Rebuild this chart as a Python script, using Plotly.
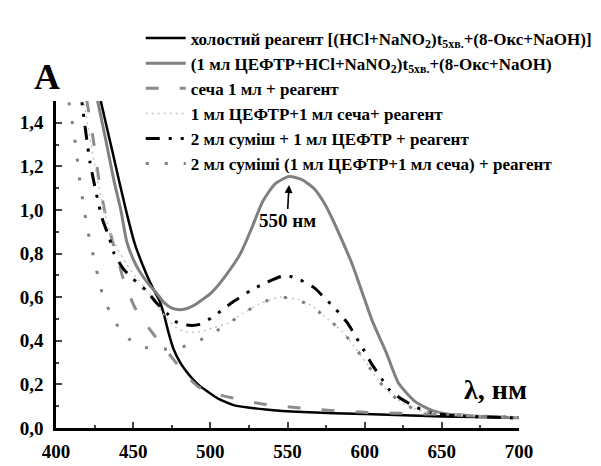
import plotly.graph_objects as go

# ---------------- data ----------------
wl_blank = [425, 429, 436.5, 441, 446, 451, 456, 460.5, 464, 467, 470, 473, 476, 480.5, 485, 492, 500, 505, 515, 536, 560, 600, 650, 700]
a_blank = [1.65, 1.50, 1.27, 1.13, 0.98, 0.846, 0.75, 0.675, 0.625, 0.585, 0.52, 0.435, 0.365, 0.30, 0.255, 0.20, 0.158, 0.135, 0.105, 0.085, 0.073, 0.064, 0.053, 0.047]

wl_ceftr = [423, 427, 432, 437.7, 442, 446, 450, 454, 460, 465, 470, 475, 480.5, 485, 490, 495, 500.6, 509, 519.5, 527, 534, 542, 551, 559, 567, 574, 580, 586, 592, 598, 605, 614, 622, 633, 645, 653, 670, 700]
a_ceftr = [1.65, 1.50, 1.33, 1.13, 1.00, 0.85, 0.775, 0.72, 0.66, 0.62, 0.575, 0.55, 0.543, 0.548, 0.565, 0.59, 0.62, 0.69, 0.80, 0.92, 1.04, 1.12, 1.154, 1.14, 1.10, 1.03, 0.945, 0.85, 0.75, 0.63, 0.49, 0.346, 0.205, 0.12, 0.077, 0.064, 0.055, 0.047]

wl_urine = [416, 420, 424, 428, 432, 435, 438, 441, 444, 452, 463.5, 475.5, 484, 492, 502, 513, 534, 555, 576, 597, 620, 641, 664, 685, 700]
a_urine = [1.66, 1.50, 1.33, 1.13, 0.98, 0.90, 0.82, 0.75, 0.675, 0.54, 0.427, 0.32, 0.245, 0.19, 0.16, 0.14, 0.11, 0.094, 0.081, 0.073, 0.068, 0.064, 0.058, 0.051, 0.048]

wl_ceftr_urine = [415, 418, 422, 426, 430, 435, 440, 446, 452, 458, 465, 472, 478, 484, 492, 502, 511, 521, 532, 545, 557, 567, 576, 586, 593, 601, 608, 616, 626, 637, 652, 675, 700]
a_ceftr_urine = [1.62, 1.50, 1.33, 1.17, 1.03, 0.90, 0.82, 0.75, 0.69, 0.64, 0.57, 0.50, 0.46, 0.44, 0.44, 0.46, 0.48, 0.525, 0.57, 0.60, 0.59, 0.555, 0.50, 0.44, 0.376, 0.30, 0.226, 0.162, 0.107, 0.077, 0.064, 0.055, 0.05]

wl_mix_ceftr = [415, 417.6, 420, 422, 426, 430, 434.6, 437.7, 444, 450, 458.5, 465, 472, 477, 482, 488, 493, 500.6, 507.5, 515, 526, 537, 548.5, 558, 567, 575, 581, 588.7, 595, 599, 604, 611, 616, 625, 636.5, 644, 660, 680, 700]
a_mix_ceftr = [1.60, 1.45, 1.32, 1.22, 1.08, 0.96, 0.87, 0.80, 0.727, 0.684, 0.63, 0.575, 0.525, 0.49, 0.475, 0.47, 0.475, 0.505, 0.54, 0.58, 0.63, 0.67, 0.70, 0.68, 0.645, 0.59, 0.547, 0.483, 0.41, 0.363, 0.30, 0.226, 0.175, 0.128, 0.085, 0.068, 0.055, 0.05, 0.045]

wl_mix = [406, 409, 411, 413, 414.5, 416, 418, 420, 422.6, 425, 428, 431, 436, 441.5, 447, 452, 458, 465, 472, 480, 488.7, 500, 510, 520, 532, 544, 556, 567, 576, 586, 593, 601, 608, 616, 626, 637, 652, 675, 700]
a_mix = [1.58, 1.47, 1.38, 1.28, 1.19, 1.10, 1.02, 0.92, 0.846, 0.76, 0.675, 0.59, 0.52, 0.45, 0.41, 0.385, 0.37, 0.363, 0.362, 0.37, 0.385, 0.43, 0.47, 0.52, 0.57, 0.60, 0.59, 0.55, 0.50, 0.44, 0.376, 0.30, 0.226, 0.162, 0.107, 0.077, 0.064, 0.055, 0.05]

names = [
    "холостий реагент [(HCl+NaNO<sub>2</sub>)t<sub>5хв.</sub>+(8-Окс+NaOH)]",
    "(1 мл ЦЕФТР+HCl+NaNO<sub>2</sub>)t<sub>5хв.</sub>+(8-Окс+NaOH)",
    "сеча 1 мл + реагент",
    "1 мл ЦЕФТР+1 мл сеча+ реагент",
    "2 мл суміш + 1 мл ЦЕФТР + реагент",
    "2 мл суміші (1 мл ЦЕФТР+1 мл сеча) + реагент",
]

x_ticks = [400, 450, 500, 550, 600, 650, 700]
y_ticks = [0.0, 0.2, 0.4, 0.6, 0.8, 1.0, 1.2, 1.4]

FONT = "Liberation Serif, Times New Roman, serif"

series = [
    (wl_blank, a_blank, dict(color="black", width=2.5, dash="solid"), 0.45),
    (wl_ceftr, a_ceftr, dict(color="#808080", width=3, dash="solid"), 0.6),
    (wl_urine, a_urine, dict(color="#8c8c8c", width=3, dash="13px,21px"), 0.6),
    (wl_ceftr_urine, a_ceftr_urine, dict(color="#c4c4c4", width=1.5, dash="2px,4px"), 0.6),
    (wl_mix_ceftr, a_mix_ceftr, dict(color="black", width=3, dash="14px,9px,3px,9px,3px,9px"), 0.6),
    (wl_mix, a_mix, dict(color="#808080", width=3, dash="3px,16px"), 0.6),
]

fig = go.Figure()
for (xs, ys, ln, sm), nm in zip(series, names):
    fig.add_trace(go.Scatter(x=xs, y=ys, mode="lines", name=nm,
                             line=dict(shape="spline", smoothing=sm, **ln)))

L, R, T, B = 47, 77, 87, 28
W, H = 601, 466
pw, ph = W - L - R, H - T - B

fig.update_layout(
    width=W, height=H,
    margin=dict(l=L, r=R, t=T, b=B),
    paper_bgcolor="white", plot_bgcolor="white",
    separators=",.",
    font=dict(family=FONT, size=15, color="black"),
    showlegend=True,
    legend=dict(x=0.183, y=1.246, xanchor="left", yanchor="top",
                bgcolor="rgba(0,0,0,0)", itemwidth=40,
                font=dict(family=FONT, size=17, color="black", weight="bold"),
                tracegroupgap=0),
    xaxis=dict(range=[400, 700], tickvals=x_ticks, ticks="inside", ticklen=6, tickwidth=2,
               showline=True, linecolor="black", linewidth=2.5, showgrid=False, zeroline=False,
               tickfont=dict(family=FONT, size=19, weight="bold"), ticklabelstandoff=4,
               minor=dict(dtick=25, ticks="inside", ticklen=3, tickwidth=2, showgrid=False)),
    yaxis=dict(range=[0, 1.5], tickvals=y_ticks, tickformat=".1f", ticks="inside", ticklen=6, tickwidth=2,
               showline=True, linecolor="black", linewidth=2.5, showgrid=False, zeroline=False,
               tickfont=dict(family=FONT, size=19, weight="bold"), ticklabelstandoff=6,
               minor=dict(dtick=0.1, ticks="inside", ticklen=3, tickwidth=2, showgrid=False)),
)

def px_to_paper(px, py):
    return (px - L) / pw, (H - B - py) / ph

ax_, ay_ = px_to_paper(38, 61)
fig.add_annotation(x=ax_, y=ay_, xref="paper", yref="paper", xanchor="center", yanchor="middle",
                   text="A", showarrow=False, font=dict(family=FONT, size=36, weight="bold"))
lx, ly = px_to_paper(500, 397)
fig.add_annotation(x=lx, y=ly, xref="paper", yref="paper", xanchor="center", yanchor="middle",
                   text="λ, нм", showarrow=False, font=dict(family=FONT, size=28, weight="bold"))
fig.add_annotation(x=551, y=1.115, text="550 нм", showarrow=True, arrowhead=2, arrowsize=1,
                   arrowwidth=1.6, arrowcolor="black", ax=-2, ay=36,
                   font=dict(family=FONT, size=19, weight="bold"))

fig.write_html("out.html")
